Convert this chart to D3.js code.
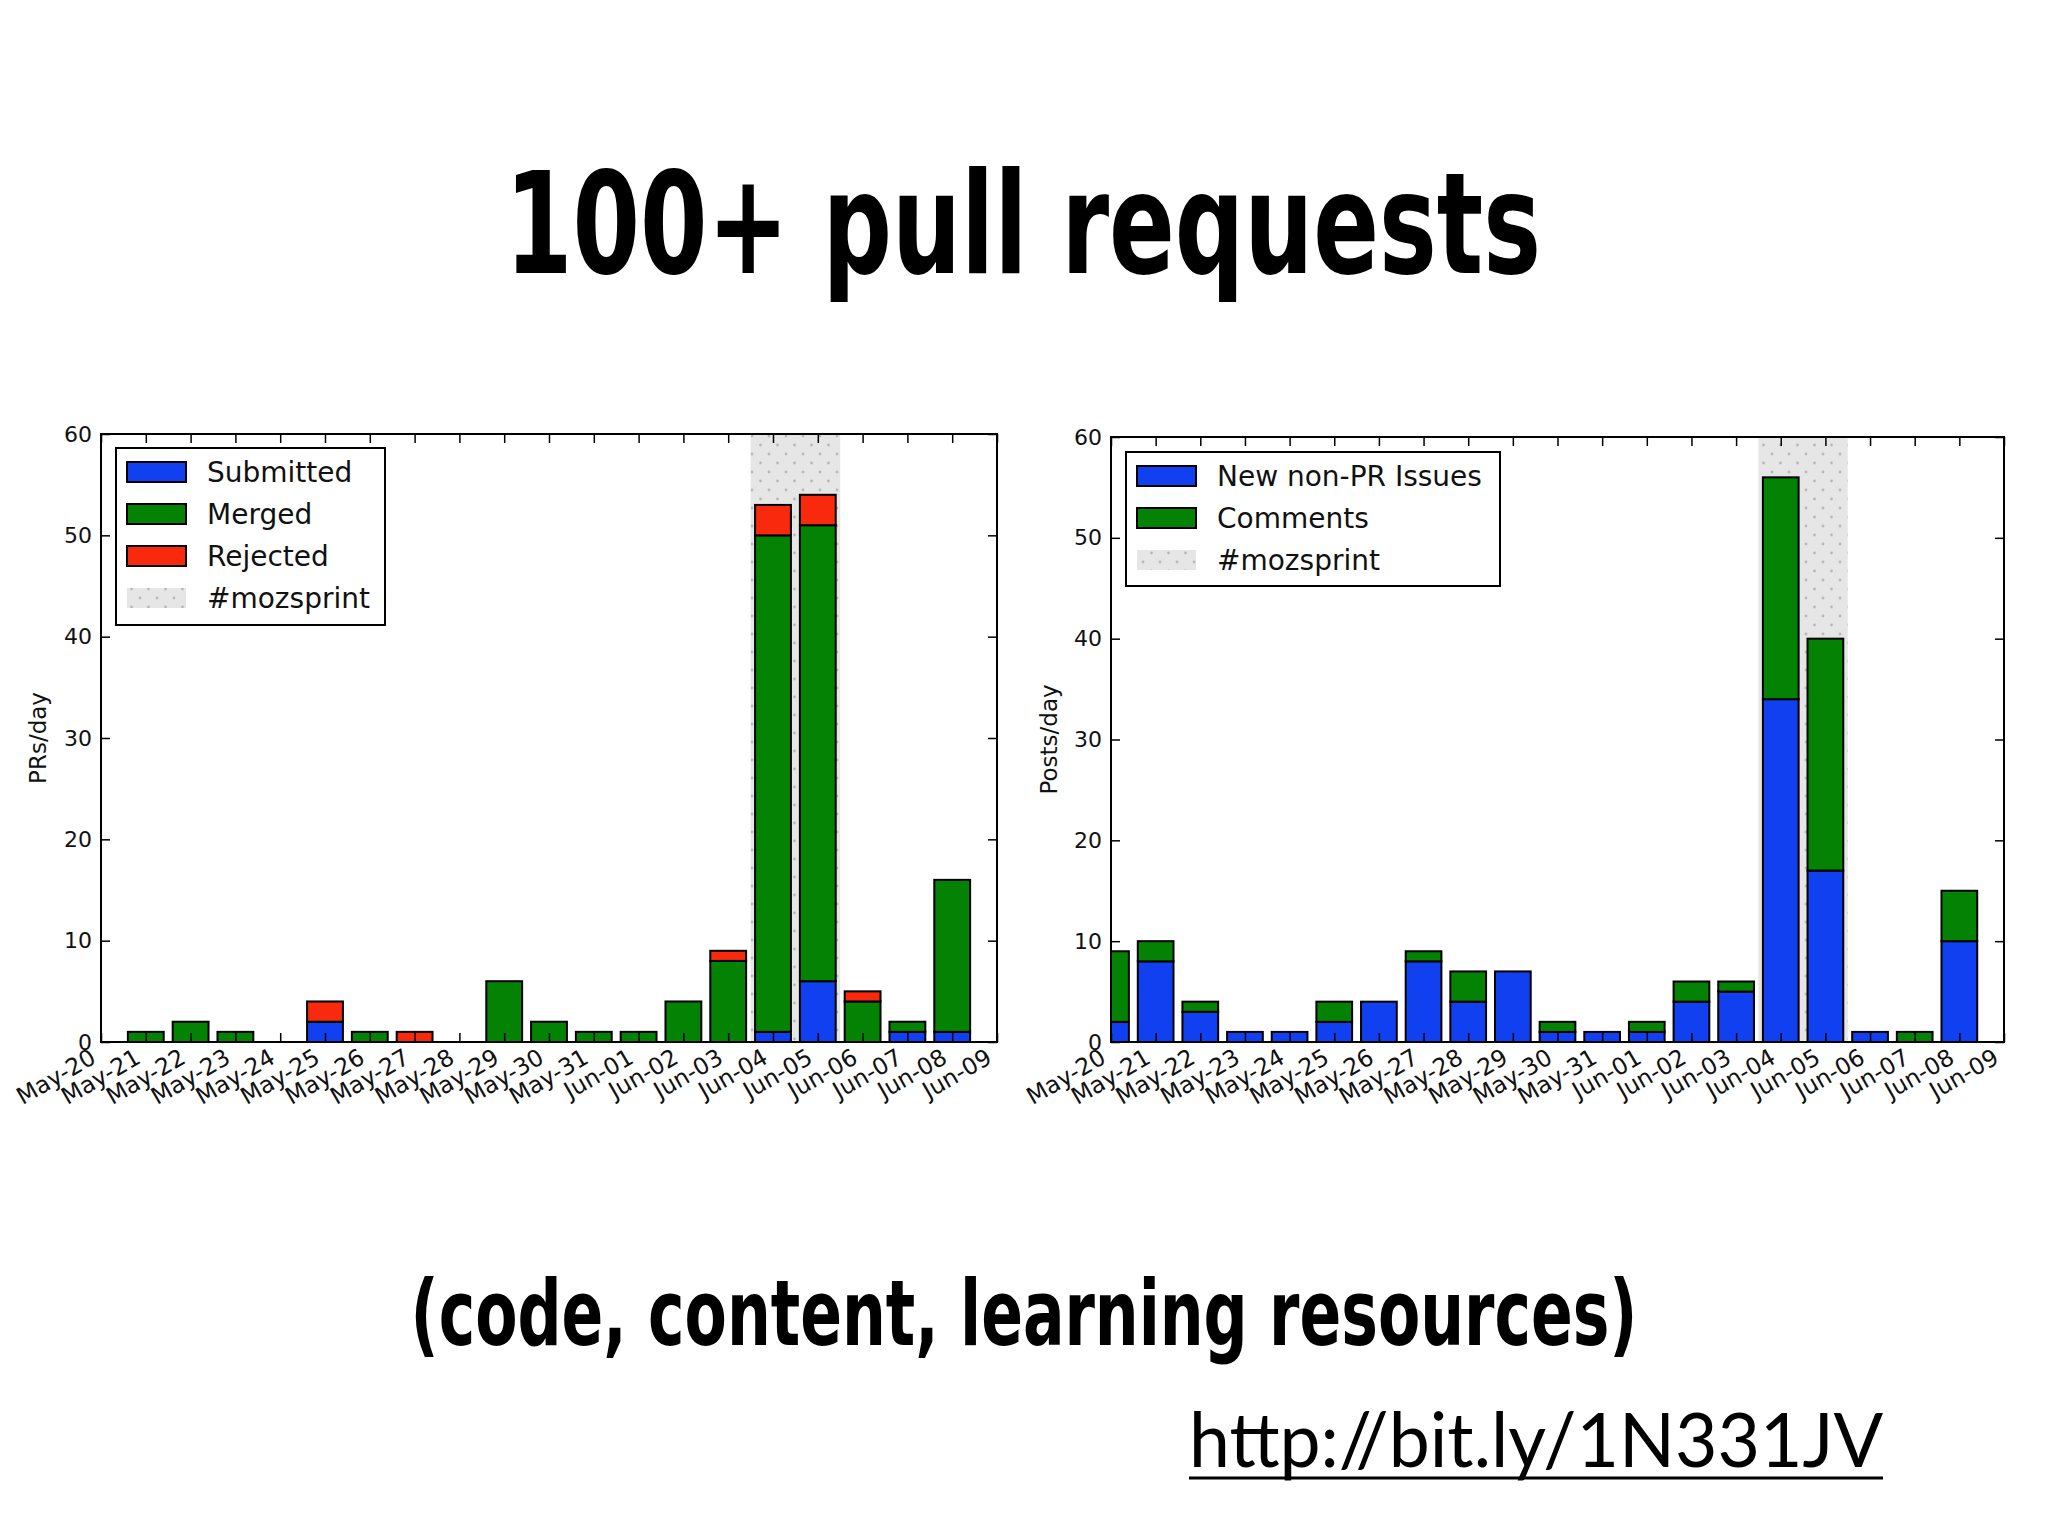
<!DOCTYPE html>
<html>
<head>
<meta charset="utf-8">
<script src="https://cdn.jsdelivr.net/npm/d3@7"></script>
<style>
  body { margin: 0; background: #fff; }
  svg { display: block; }
</style>
</head>
<body>
<script>
// data
let dates = ['May-20', 'May-21', 'May-22', 'May-23', 'May-24', 'May-25', 'May-26', 'May-27',
  'May-28', 'May-29', 'May-30', 'May-31', 'Jun-01', 'Jun-02', 'Jun-03', 'Jun-04', 'Jun-05',
  'Jun-06', 'Jun-07', 'Jun-08', 'Jun-09'];

// left panel, PRs per day (May-20 .. Jun-08)
let submitted = [0, 0, 0, 0, 0, 2, 0, 0, 0, 0, 0, 0, 0, 0, 0, 1, 6, 0, 1, 1];
let merged    = [0, 1, 2, 1, 0, 0, 1, 0, 0, 6, 2, 1, 1, 4, 8, 49, 45, 4, 1, 15];
let rejected  = [0, 0, 0, 0, 0, 2, 0, 1, 0, 0, 0, 0, 0, 0, 1, 3, 3, 1, 0, 0];

// right panel, posts per day
let issues   = [2, 8, 3, 1, 1, 2, 4, 8, 4, 7, 1, 1, 1, 4, 5, 34, 17, 1, 0, 10];
let comments = [7, 2, 1, 0, 0, 2, 0, 1, 3, 0, 1, 0, 1, 2, 1, 22, 23, 0, 1, 5];

let yTicks = [0, 10, 20, 30, 40, 50, 60];
let sprintSpan = [14.5, 16.5]; // #mozsprint, in day index

let blue = '#1040f0', green = '#048204', red = '#f8290c';

let svg = d3.select('body')
  .append('svg')
  .attr('width', 2048)
  .attr('height', 1536);

svg.append('rect').attr('width', 2048).attr('height', 1536).attr('fill', '#fff');

let defs = svg.append('defs');
let pat = defs.append('pattern')
  .attr('id', 'dots')
  .attr('patternUnits', 'userSpaceOnUse')
  .attr('width', 17)
  .attr('height', 18);
pat.append('rect').attr('width', 17).attr('height', 18).attr('fill', '#e6e6e6');
pat.append('circle').attr('cx', 4).attr('cy', 4).attr('r', 1.4).attr('fill', '#b8b8b8');
pat.append('circle').attr('cx', 12.5).attr('cy', 13).attr('r', 1.4).attr('fill', '#b8b8b8');

// title + footer text
svg.append('text')
  .attr('x', 1023).attr('y', 273)
  .attr('text-anchor', 'middle')
  .attr('font-family', '"Liberation Sans Narrow", "DejaVu Sans Condensed", "Arial Narrow", sans-serif')
  .attr('font-weight', 'bold')
  .attr('font-size', 140)
  .attr('textLength', 1036)
  .attr('lengthAdjust', 'spacingAndGlyphs')
  .text('100+ pull requests');

svg.append('text')
  .attr('x', 1024).attr('y', 1345)
  .attr('text-anchor', 'middle')
  .attr('font-family', '"Liberation Sans Narrow", "DejaVu Sans Condensed", "Arial Narrow", sans-serif')
  .attr('font-weight', 'bold')
  .attr('font-size', 90)
  .attr('textLength', 1227)
  .attr('lengthAdjust', 'spacingAndGlyphs')
  .text('(code, content, learning resources)');

svg.append('text')
  .attr('x', 1189).attr('y', 1467)
  .attr('font-family', 'Lato, "Open Sans", sans-serif')
  .attr('font-size', 76)
  .attr('textLength', 694)
  .attr('lengthAdjust', 'spacingAndGlyphs')
  .text('http://bit.ly/1N331JV');
svg.append('line')
  .attr('x1', 1189).attr('x2', 1883)
  .attr('y1', 1478).attr('y2', 1478)
  .attr('stroke', '#000').attr('stroke-width', 3);

function drawPanel(cfg) {
  let n = cfg.series[0].values.length;
  let x = d3.scaleLinear().domain([0, dates.length - 1]).range([cfg.x0, cfg.x1]);
  let y = d3.scaleLinear().domain([0, 60]).range([cfg.y1, cfg.y0]);
  let g = svg.append('g');

  let clipId = 'clip' + cfg.id;
  defs.append('clipPath').attr('id', clipId)
    .append('rect')
    .attr('x', cfg.x0).attr('y', cfg.y0)
    .attr('width', cfg.x1 - cfg.x0).attr('height', cfg.y1 - cfg.y0);

  let plot = g.append('g').attr('clip-path', `url(#${clipId})`);

  // sprint shading
  plot.append('rect')
    .attr('x', x(sprintSpan[0]))
    .attr('width', x(sprintSpan[1]) - x(sprintSpan[0]))
    .attr('y', cfg.y0)
    .attr('height', cfg.y1 - cfg.y0)
    .attr('fill', 'url(#dots)');

  let keys = cfg.series.map(s => s.name);
  let rows = d3.range(n).map(i => {
    let r = { i: i };
    cfg.series.forEach(s => { r[s.name] = s.values[i]; });
    return r;
  });
  let stacked = d3.stack().keys(keys)(rows);
  let bw = x(0.8) - x(0);

  stacked.forEach((layer, k) => {
    plot.selectAll(null)
      .data(layer.filter(d => d[1] > d[0]))
      .enter()
      .append('rect')
      .attr('x', d => x(d.data.i) - bw / 2)
      .attr('width', bw)
      .attr('y', d => y(d[1]))
      .attr('height', d => y(d[0]) - y(d[1]))
      .attr('fill', cfg.series[k].color)
      .attr('stroke', '#000')
      .attr('stroke-width', 2);
  });

  // ticks (inward, matplotlib classic)
  let tickFont = 'DejaVu Sans, sans-serif';
  let bottom = g.append('g')
    .attr('transform', `translate(0,${cfg.y1})`)
    .call(d3.axisBottom(x).tickValues(d3.range(dates.length))
      .tickFormat(i => dates[i]).tickSizeInner(-9).tickSizeOuter(0));

  g.append('g')
    .attr('transform', `translate(0,${cfg.y0})`)
    .call(d3.axisTop(x).tickValues(d3.range(dates.length))
      .tickFormat('').tickSizeInner(-9).tickSizeOuter(0));

  g.append('g')
    .attr('transform', `translate(${cfg.x0},0)`)
    .call(d3.axisLeft(y).tickValues(yTicks).tickSizeInner(-9).tickSizeOuter(0).tickPadding(9));

  g.append('g')
    .attr('transform', `translate(${cfg.x1},0)`)
    .call(d3.axisRight(y).tickValues(yTicks).tickFormat('').tickSizeInner(-9).tickSizeOuter(0));

  g.selectAll('.domain').remove();
  g.selectAll('.tick line').attr('stroke', '#000').attr('stroke-width', 1.5);
  g.selectAll('.tick text')
    .attr('font-family', tickFont)
    .attr('font-size', 22)
    .attr('fill', '#111');
  bottom.selectAll('text')
    .attr('x', -4).attr('y', 20).attr('dy', 0)
    .attr('font-size', 23.5)
    .attr('text-anchor', 'end')
    .attr('transform', 'rotate(-30 -4 20)');

  g.append('rect')
    .attr('x', cfg.x0).attr('y', cfg.y0)
    .attr('width', cfg.x1 - cfg.x0).attr('height', cfg.y1 - cfg.y0)
    .attr('fill', 'none').attr('stroke', '#000').attr('stroke-width', 2);

  // y label
  g.append('text')
    .attr('transform', `translate(${cfg.labelX},${(cfg.y0 + cfg.y1) / 2}) rotate(-90)`)
    .attr('text-anchor', 'middle')
    .attr('dominant-baseline', 'central')
    .attr('font-family', tickFont)
    .attr('font-size', 23)
    .attr('fill', '#111')
    .text(cfg.ylabel);

  // legend
  let L = cfg.legend;
  let entries = cfg.series.map(s => ({ name: s.name, fill: s.color, edge: true }))
    .concat([{ name: '#mozsprint', fill: 'url(#dots)', edge: false }]);
  let lg = g.append('g');
  lg.append('rect')
    .attr('x', L.x).attr('y', L.y).attr('width', L.w).attr('height', L.h)
    .attr('fill', '#fff').attr('stroke', '#000').attr('stroke-width', 2);
  entries.forEach((e, k) => {
    let py = L.y + 14 + k * 42;
    lg.append('rect')
      .attr('x', L.x + 11).attr('y', py)
      .attr('width', 59).attr('height', 20)
      .attr('fill', e.fill)
      .attr('stroke', e.edge ? '#000' : 'none')
      .attr('stroke-width', 2);
    lg.append('text')
      .attr('x', L.x + 91).attr('y', py + 10)
      .attr('dominant-baseline', 'central')
      .attr('font-family', tickFont)
      .attr('font-size', 28)
      .attr('fill', '#111')
      .text(e.name);
  });
}

drawPanel({
  id: 'L', x0: 101, x1: 997, y0: 434, y1: 1042, labelX: 38,
  ylabel: 'PRs/day',
  series: [
    { name: 'Submitted', values: submitted, color: blue },
    { name: 'Merged', values: merged, color: green },
    { name: 'Rejected', values: rejected, color: red }
  ],
  legend: { x: 116, y: 448, w: 269, h: 177 }
});

drawPanel({
  id: 'R', x0: 1111, x1: 2004, y0: 437, y1: 1042, labelX: 1049,
  ylabel: 'Posts/day',
  series: [
    { name: 'New non-PR Issues', values: issues, color: blue },
    { name: 'Comments', values: comments, color: green }
  ],
  legend: { x: 1126, y: 452, w: 374, h: 134 }
});
</script>
</body>
</html>
